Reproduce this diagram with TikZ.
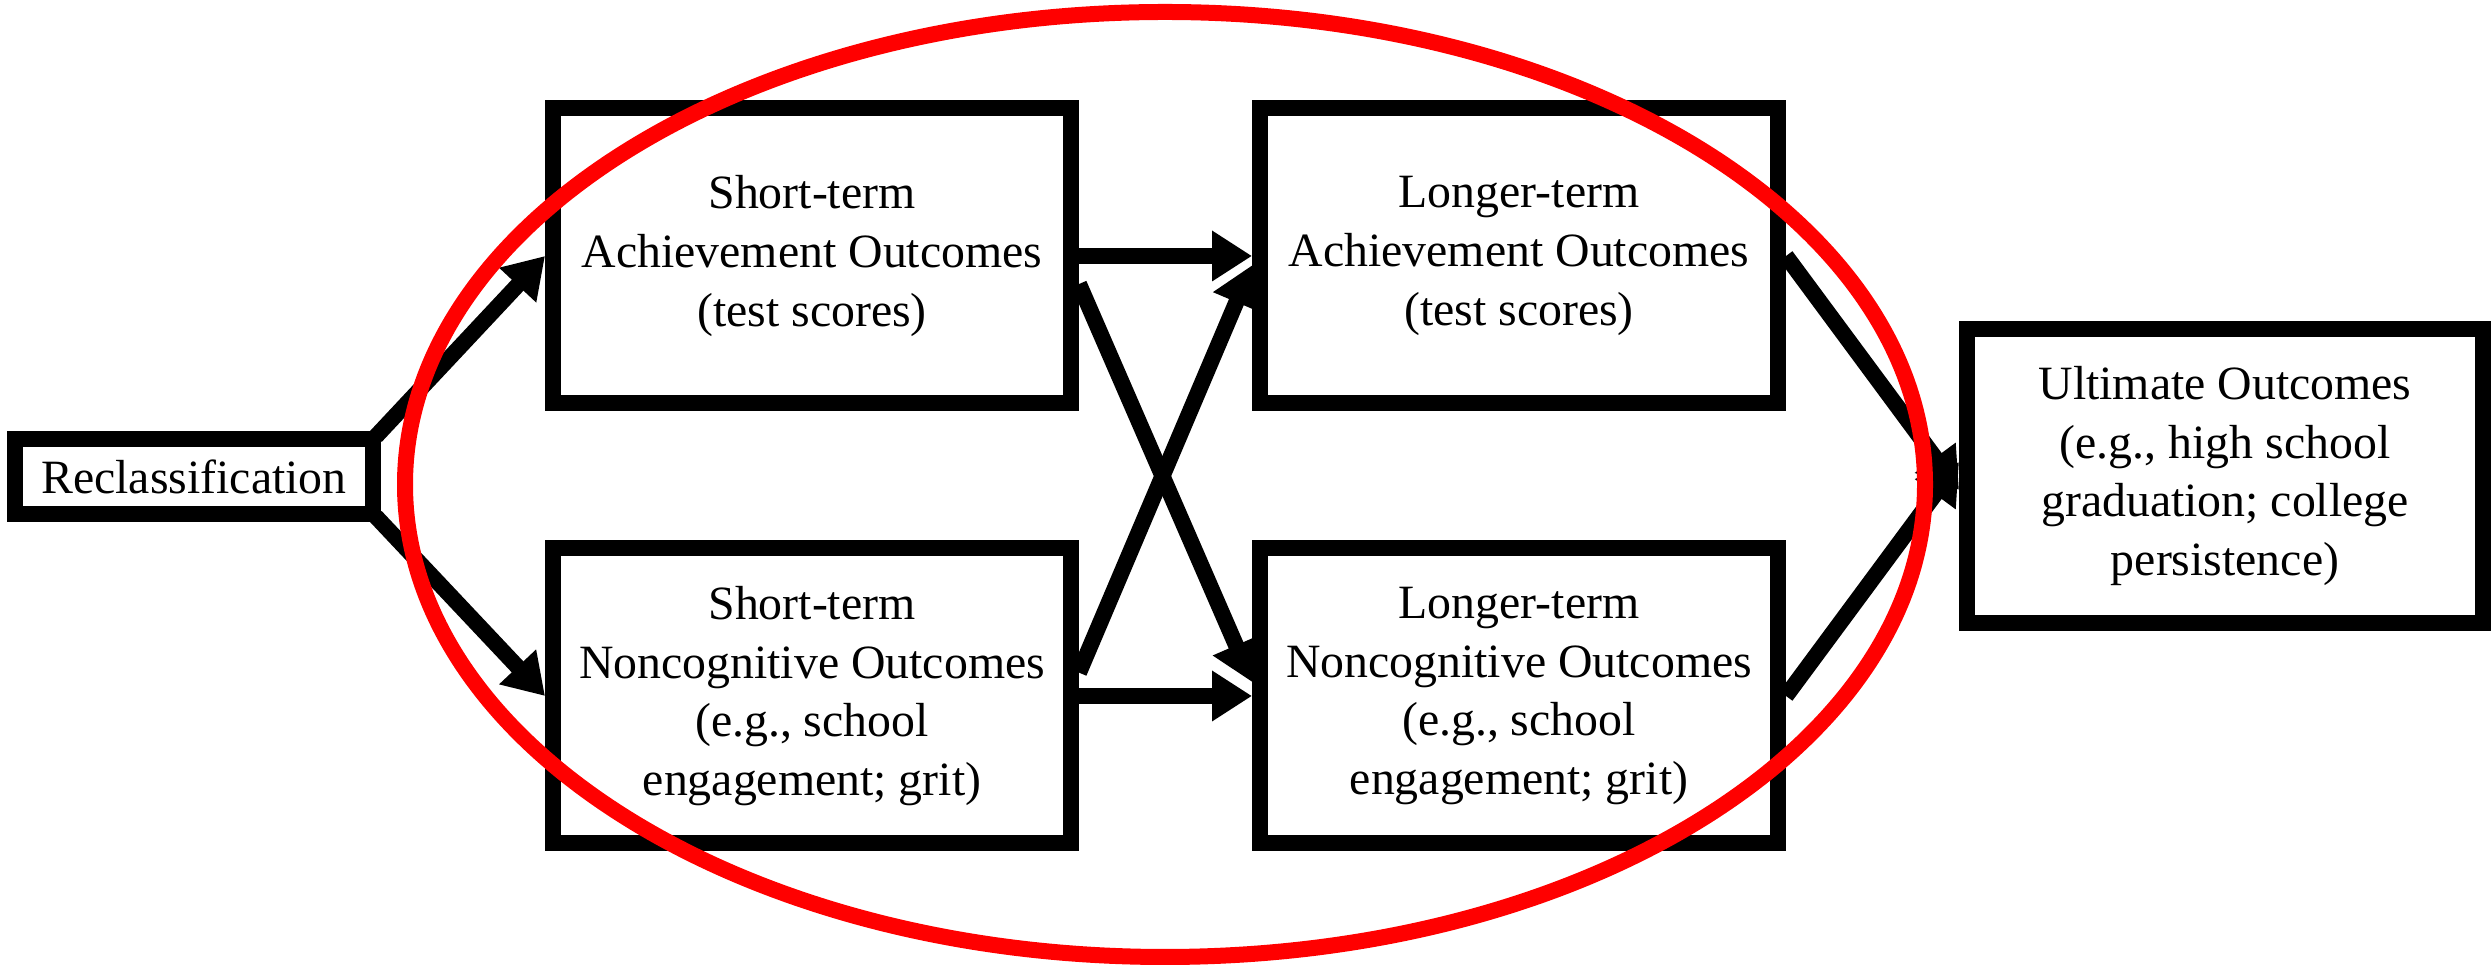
\documentclass[tikz,border=0pt]{standalone}
\usepackage{fontspec}
\setmainfont{Liberation Serif}
\usepackage{tikz}
\usetikzlibrary{arrows.meta}

\begin{document}
\begin{tikzpicture}[
  every node/.style={font=\fontsize{13.6pt}{16.7pt}\selectfont},
  outcome/.style={rectangle, draw, line width=1.6mm, align=center, minimum width=51.8mm, minimum height=29.5mm, inner sep=1pt},
  arr/.style={-{Triangle[length=4mm, width=4.8mm]}, line width=1.6mm},
  oval/.style={draw=red, line width=1.6mm},
]
\useasboundingbox (0, 0) rectangle (24.91, 9.65);
\node[outcome, minimum width=35.8mm, minimum height=7.5mm] (recl) at (1.94, 4.885) {Reclassification};
\node[outcome] (stach)  at (8.12, 7.09)  {Short-term\\Achievement Outcomes\\(test scores)};
\node[outcome] (stnon)  at (8.12, 2.69)  {Short-term\\Noncognitive Outcomes\\(e.g., school\\engagement; grit)};
\node[outcome] (ltach)  at (15.19, 7.09) {Longer-term\\Achievement Outcomes\\(test scores)};
\node[outcome] (ltnon)  at (15.19, 2.69) {Longer-term\\Noncognitive Outcomes\\(e.g., school\\engagement; grit)};
\node[outcome, minimum width=51.6mm, minimum height=29.4mm] (ult) at (22.25, 4.89) {Ultimate Outcomes\\(e.g., high school\\graduation; college\\persistence)};
\draw[arr, shorten <=-0.75mm] (recl.north east) -- (stach.west);
\draw[arr, shorten <=-0.75mm] (recl.south east) -- (stnon.west);
\draw[arr] (stach.east) -- (ltach.west);
\draw[arr] (stnon.east) -- (ltnon.west);
\draw[arr] (stach.-6) -- (ltnon.177);
\draw[arr] (stnon.5) -- (ltach.182);
\draw[arr] (ltach.east) -- (ult.183);
\draw[arr] (ltnon.east) -- (ult.177);
\draw[oval] (11.65, 4.805) ellipse [x radius=7.60, y radius=4.725];
\end{tikzpicture}
\end{document}
